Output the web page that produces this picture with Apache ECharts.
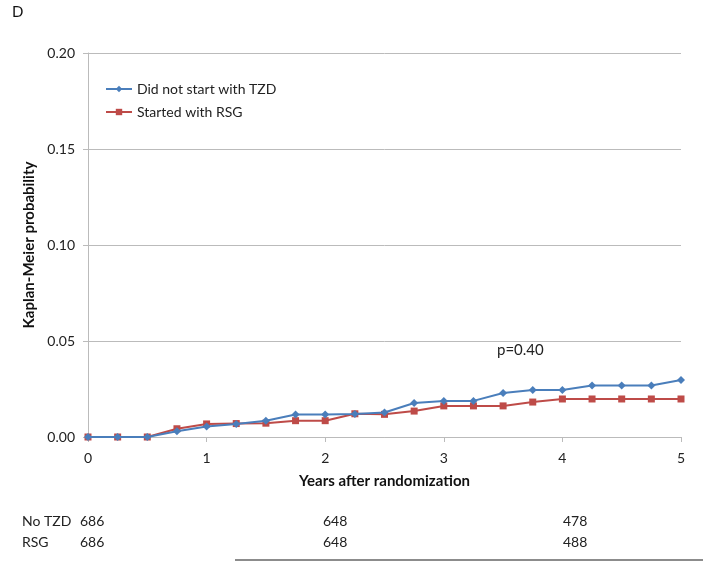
<!DOCTYPE html>
<html>
<head>
<meta charset="utf-8">
<script src="https://cdn.jsdelivr.net/npm/echarts@6/dist/echarts.min.js"></script>
<style>html,body{margin:0;padding:0;background:#fff}#c{width:703px;height:563px}</style>
</head>
<body>
<div id="c"></div>
<script>
var years = [0,0.25,0.5,0.75,1,1.25,1.5,1.75,2,2.25,2.5,2.75,3,3.25,3.5,3.75,4,4.25,4.5,4.75,5];
var noTZD = [0,0,0,0.003,0.0055,0.0068,0.0085,0.0117,0.0117,0.012,0.0128,0.0177,0.0188,0.0188,0.0229,0.0245,0.0245,0.0268,0.0268,0.0268,0.0297];
var rsg = [0,0,0,0.0043,0.0068,0.007,0.0072,0.0085,0.0085,0.0121,0.0118,0.0135,0.0162,0.0162,0.0162,0.0182,0.0198,0.0198,0.0198,0.0198,0.0198];
var seriesNames = ['Did not start with TZD','Started with RSG'];
var yTicks = [0,0.05,0.10,0.15,0.20];
var xTicks = [0,1,2,3,4,5];
var riskRows = ['No TZD','RSG'];
var riskNoTZD = [686,648,478];
var riskRSG = [686,648,488];
var riskX = [80,323,563];

var font = 'Lato, "Open Sans", sans-serif';
var chart = echarts.init(document.getElementById('c'), null, {renderer:'canvas'});
function pairs(xs, ys){ return xs.map(function(x,i){return [x, ys[i]];}); }
var graphics = [
  {type:'text', left:12, top:5, style:{text:'D', font:'15px '+font, fill:'#111'}},
  {type:'text', left:497, top:343, style:{text:'p=0.40', font:'15px '+font, fill:'#222'}},
  {type:'line', shape:{x1:235,y1:560,x2:703,y2:560}, style:{stroke:'#666', lineWidth:1.5}}
];
riskRows.forEach(function(r,i){
  graphics.push({type:'text', left:22, top:514+i*21, style:{text:r, font:'14px '+font, fill:'#222'}});
  var vals = i===0 ? riskNoTZD : riskRSG;
  vals.forEach(function(v,j){
    graphics.push({type:'text', left:riskX[j], top:514+i*21, style:{text:String(v), font:'14px '+font, fill:'#222'}});
  });
});
chart.setOption({
  animation:false,
  backgroundColor:'#fff',
  textStyle:{fontFamily:font},
  grid:{left:88, right:22, top:53, bottom:126},
  legend:{
    orient:'vertical', left:100, top:77, itemGap:9, itemWidth:26, itemHeight:8,
    textStyle:{fontSize:14, color:'#222', fontFamily:font},
    data:seriesNames
  },
  xAxis:{
    type:'value', min:0, max:5, interval:1,
    name:'Years after randomization', nameLocation:'middle', nameGap:37,
    nameTextStyle:{fontSize:15, fontWeight:'bold', color:'#111'},
    axisLine:{lineStyle:{color:'#bbb'}},
    axisTick:{show:true, length:5, lineStyle:{color:'#bbb'}},
    axisLabel:{fontSize:14, color:'#222', margin:14},
    splitLine:{show:false}
  },
  yAxis:{
    type:'value', min:0, max:0.2, interval:0.05,
    name:'Kaplan-Meier probability', nameLocation:'middle', nameGap:49,
    nameTextStyle:{fontSize:15, fontWeight:'bold', color:'#111'},
    axisLine:{show:true, lineStyle:{color:'#bbb'}},
    axisTick:{show:true, length:5, lineStyle:{color:'#bbb'}},
    axisLabel:{fontSize:14, color:'#222', margin:13, formatter:function(v){return v.toFixed(2);}},
    splitLine:{show:true, lineStyle:{color:'#bbb'}}
  },
  series:[
    {name:seriesNames[0], type:'line', data:pairs(years,noTZD), symbol:'diamond', symbolSize:8,
     itemStyle:{color:'#4a7ebb'}, lineStyle:{color:'#4a7ebb', width:2}, z:3},
    {name:seriesNames[1], type:'line', data:pairs(years,rsg), symbol:'rect', symbolSize:7,
     itemStyle:{color:'#be4b48'}, lineStyle:{color:'#be4b48', width:2}, z:2}
  ],
  graphic:graphics
});
</script>
</body>
</html>
